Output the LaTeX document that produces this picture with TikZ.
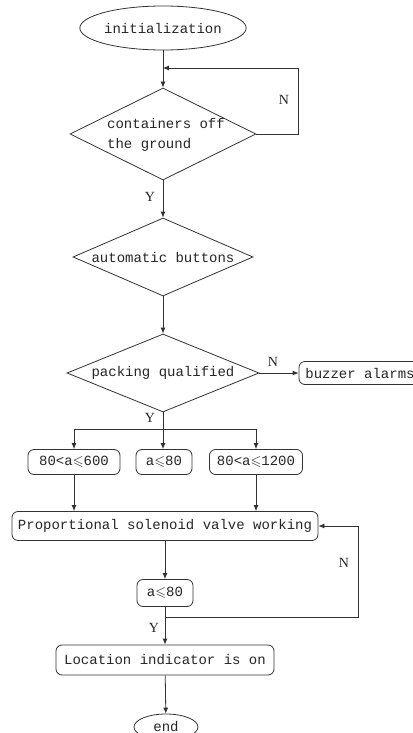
\documentclass[tikz,border=0pt]{standalone}
\usepackage{fontspec}
\usepackage{amssymb}
\setmainfont{Liberation Serif}
\newfontfamily\monof{Liberation Mono}
\usetikzlibrary{shapes.geometric,arrows.meta}
\begin{document}
\begin{tikzpicture}[x=1pt,y=-1pt,
  every node/.style={text=black!85},
  line/.style={draw=black!80,line width=0.8pt},
  arr/.style={line,-{Latex[length=6pt,width=5pt]}},
  txt/.style={font=\monof\fontsize{14}{20}\selectfont,inner sep=0pt},
  term/.style={ellipse,line,inner sep=0pt,font=\monof\fontsize{14}{20}\selectfont},
  dia/.style={diamond,line,inner sep=0pt},
  box/.style={rectangle,rounded corners=6pt,line,inner sep=1pt,font=\monof\fontsize{14}{20}\selectfont},
  yn/.style={font=\fontsize{14}{16}\selectfont,inner sep=0pt}]
\useasboundingbox (0,0) rectangle (412,733);
\fill[white] (0,0) rectangle (412,733);

\node[term,minimum width=166,minimum height=44] (init) at (163,28) {initialization};
\node[dia,minimum width=186,minimum height=92] (d1) at (163,134) {};
\node[txt,align=left] (t1) at (166,135) {containers off\\the ground};
\node[dia,minimum width=180,minimum height=78] (d2) at (163,257) {};
\node[txt] (t2) at (163,257) {automatic buttons};
\node[dia,minimum width=192,minimum height=78] (d3) at (163,373) {};
\node[txt] (t3) at (163,373) {packing qualified};
\node[box,minimum width=122,minimum height=23] (buz) at (360,373) {buzzer alarms};

\node[box,minimum width=92,minimum height=25] (r1) at (74,462) {80<a$\leqslant$600};
\node[box,minimum width=56,minimum height=25] (r2) at (164,462) {a$\leqslant$80};
\node[box,minimum width=93,minimum height=25] (r3) at (256,462) {80<a$\leqslant$1200};
\node[box,minimum width=306,minimum height=29] (prop) at (165,526) {Proportional solenoid valve working};
\node[box,minimum width=56,minimum height=27] (chk) at (165,593) {a$\leqslant$80};
\node[box,minimum width=218,minimum height=30] (loc) at (165,660) {Location indicator is on};
\node[term,minimum width=64,minimum height=26] (end) at (166,727) {end};

\coordinate (j1) at (163,68);
\coordinate (lp1) at (298,68);
\coordinate (br) at (163,429);
\coordinate (j2) at (165,617);
\coordinate (lp2) at (358,617);

\draw[arr] (init) -- (d1);
\draw[arr] (d1.east) -| (lp1) -- (j1);
\node[yn] (n1) at (284,100) {N};
\draw[arr] (d1) -- (d2);
\node[yn] (y1) at (150,197) {Y};
\draw[arr] (d2) -- (d3);
\draw[arr] (d3.east) -- (buz.west);
\node[yn] (n2) at (273,362) {N};
\draw[line] (d3.south) -- (br);
\node[yn] (y2) at (150,418) {Y};
\draw[arr] (br) -| (r1.north);
\draw[arr] (br) -- (br |- r2.north);
\draw[arr] (br) -| (r3.north);
\draw[arr] (r1) -- (r1 |- prop.north);
\draw[arr] (r3) -- (r3 |- prop.north);
\draw[arr] (prop) -- (chk);
\draw[arr] (chk) -- (loc);
\node[yn] (y3) at (154,628) {Y};
\draw[arr] (j2) -- (lp2) |- (prop.east);
\node[yn] (n3) at (344,563) {N};
\draw[arr] (loc) -- (end);
\end{tikzpicture}
\end{document}
